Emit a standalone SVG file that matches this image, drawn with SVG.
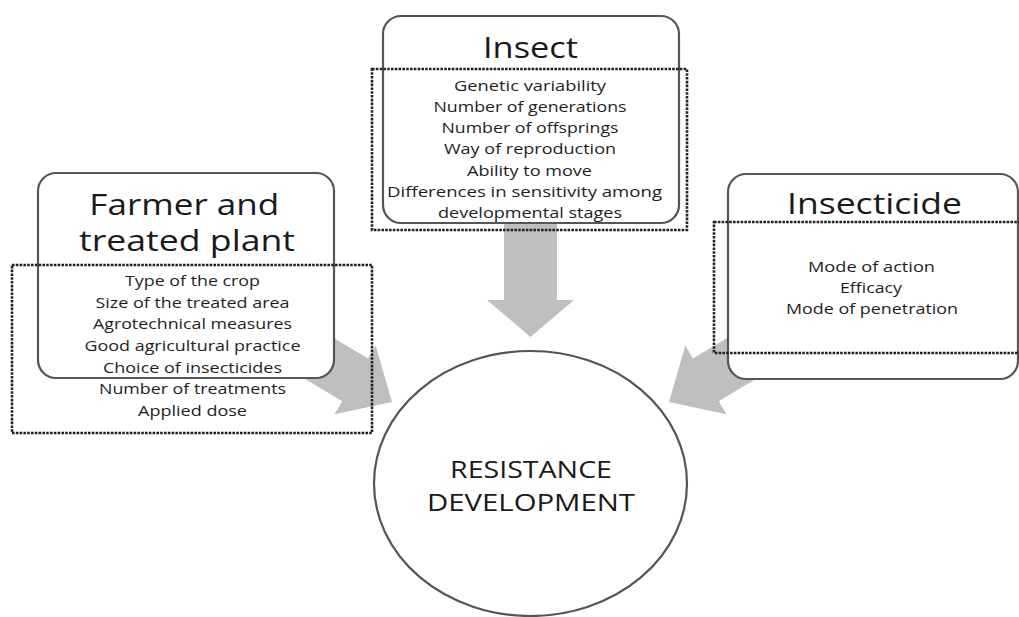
<svg xmlns="http://www.w3.org/2000/svg" width="1019" height="617" viewBox="0 0 1019 617">
<style>
.box{fill:#fff;stroke:#555;stroke-width:2.2}
.dot{fill:none;stroke:#222;stroke-width:2.6;stroke-dasharray:2.6 1.2}
.arrow{fill:#bfbfbf;stroke:none}
.title{font-family:"Open Sans","Liberation Sans",sans-serif;font-size:29px;fill:#1a1a1a;text-anchor:middle}
.item{font-family:"Open Sans","Liberation Sans",sans-serif;font-size:14.5px;fill:#1e1e1e;text-anchor:middle}
.big{font-family:"Open Sans","Liberation Sans",sans-serif;font-size:24px;fill:#1a1a1a;text-anchor:middle}
</style>
<rect width="1019" height="617" fill="#fff"/>
<g id="connectors">
<polygon class="arrow" points="504,215 557,215 557,300 574,300 530.5,337 487,300 504,300"/>
<polygon class="arrow" points="213.7,324 342.2,401.3 334.5,414.2 392,402 375.7,345.6 368,358.5 239.5,281.2"/>
<polygon class="arrow" points="847.3,324 718.8,401.3 726.5,414.2 669,402 685.3,345.6 693,358.5 821.5,281.2"/>
</g>
<g id="insect">
<rect class="box" x="383" y="16" width="296" height="207" rx="18"/>
<rect class="dot" x="372" y="69" width="315" height="161"/>
<text class="title" x="530.5" y="58" textLength="95" lengthAdjust="spacingAndGlyphs">Insect</text>
<text class="item" x="530" y="91" textLength="152" lengthAdjust="spacingAndGlyphs">Genetic variability</text>
<text class="item" x="530" y="112" textLength="193" lengthAdjust="spacingAndGlyphs">Number of generations</text>
<text class="item" x="530" y="133" textLength="177" lengthAdjust="spacingAndGlyphs">Number of offsprings</text>
<text class="item" x="530" y="154" textLength="172" lengthAdjust="spacingAndGlyphs">Way of reproduction</text>
<text class="item" x="529.5" y="175.5" textLength="125" lengthAdjust="spacingAndGlyphs">Ability to move</text>
<text class="item" x="524.5" y="196.5" textLength="275" lengthAdjust="spacingAndGlyphs">Differences in sensitivity among</text>
<text class="item" x="530" y="218" textLength="184" lengthAdjust="spacingAndGlyphs">developmental stages</text>
</g>
<g id="farmer">
<rect class="box" x="38" y="173" width="296" height="205" rx="18"/>
<rect class="dot" x="12" y="265" width="360" height="168"/>
<text class="title" x="184.3" y="215" textLength="190" lengthAdjust="spacingAndGlyphs">Farmer and</text>
<text class="title" x="187" y="251" textLength="216" lengthAdjust="spacingAndGlyphs">treated plant</text>
<text class="item" x="192.5" y="286" textLength="135" lengthAdjust="spacingAndGlyphs">Type of the crop</text>
<text class="item" x="192.5" y="307.7" textLength="194" lengthAdjust="spacingAndGlyphs">Size of the treated area</text>
<text class="item" x="192.5" y="329.3" textLength="199" lengthAdjust="spacingAndGlyphs">Agrotechnical measures</text>
<text class="item" x="192.5" y="351" textLength="216" lengthAdjust="spacingAndGlyphs">Good agricultural practice</text>
<text class="item" x="192.5" y="372.5" textLength="179" lengthAdjust="spacingAndGlyphs">Choice of insecticides</text>
<text class="item" x="192.5" y="394" textLength="187" lengthAdjust="spacingAndGlyphs">Number of treatments</text>
<text class="item" x="192.5" y="415.7" textLength="109" lengthAdjust="spacingAndGlyphs">Applied dose</text>
</g>
<g id="insecticide">
<rect class="box" x="728" y="174" width="290" height="205" rx="18"/>
<rect class="dot" x="714" y="222" width="320" height="131"/>
<text class="title" x="874.5" y="214" textLength="175" lengthAdjust="spacingAndGlyphs">Insecticide</text>
<text class="item" x="871.5" y="272.3" textLength="127" lengthAdjust="spacingAndGlyphs">Mode of action</text>
<text class="item" x="871" y="293.3" textLength="62" lengthAdjust="spacingAndGlyphs">Efficacy</text>
<text class="item" x="872" y="314" textLength="172" lengthAdjust="spacingAndGlyphs">Mode of penetration</text>
</g>
<g id="resistance">
<ellipse class="box" cx="530.5" cy="483.5" rx="156.5" ry="132.5"/>
<text class="big" x="531" y="478" textLength="162" lengthAdjust="spacingAndGlyphs">RESISTANCE</text>
<text class="big" x="531" y="511" textLength="208" lengthAdjust="spacingAndGlyphs">DEVELOPMENT</text>
</g>
</svg>
